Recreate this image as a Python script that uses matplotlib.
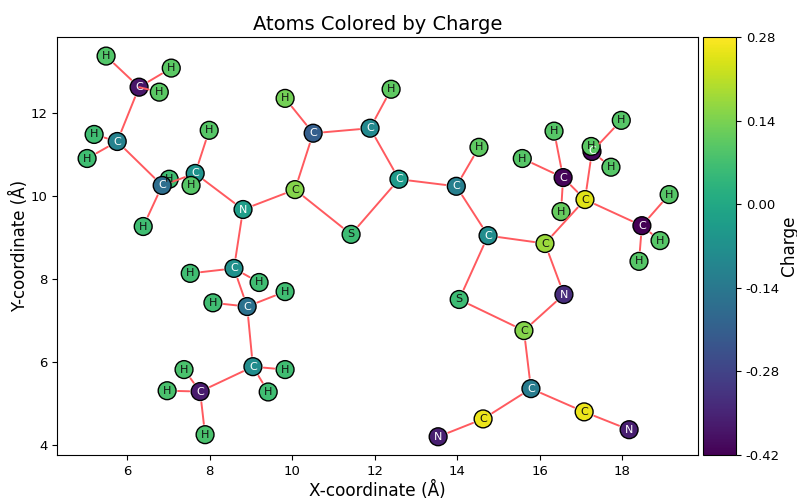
#!/usr/bin/env python3
"""Molecule atoms coloured by partial charge."""

import matplotlib
matplotlib.use('Agg')
import matplotlib.pyplot as plt
import numpy as np


ATOM_X = [5.49, 7.07, 6.29, 6.78, 5.20, 5.76, 5.03, 7.02, 6.85, 7.65,
          7.55, 7.99, 6.39, 8.81, 10.07, 10.51, 9.83, 11.89, 12.40, 12.59,
          11.43, 13.98, 14.53, 14.75, 16.13, 14.05, 15.62, 16.59, 15.79, 14.63,
          13.54, 17.08, 18.17, 17.10, 16.57, 16.35, 15.58, 16.52, 17.27, 17.25,
          17.98, 17.73, 18.48, 19.14, 18.92, 18.41, 8.59, 7.53, 9.20, 8.08,
          8.91, 9.83, 9.05, 9.83, 9.42, 7.77, 7.38, 6.97, 7.89]
ATOM_Y = [13.38, 13.09, 12.63, 12.51, 11.49, 11.32, 10.91, 10.41, 10.26, 10.55,
          10.26, 11.59, 9.27, 9.68, 10.16, 11.52, 12.36, 11.64, 12.58, 10.41,
          9.08, 10.24, 11.18, 9.05, 8.86, 7.51, 6.76, 7.63, 5.36, 4.63,
          4.20, 4.80, 4.37, 9.92, 10.45, 11.57, 10.91, 9.63, 11.08, 11.20,
          11.83, 10.70, 9.29, 10.04, 8.93, 8.43, 8.26, 8.14, 7.92, 7.43,
          7.34, 7.70, 5.89, 5.82, 5.28, 5.29, 5.82, 5.31, 4.25]
ATOM_LABELS = list('HHCHHCHHCC'
                   'HHHNCCHCHC'
                   'SCHCCSCNCC'
                   'NCNCCHHHCH'
                   'HHCHHHCHHH'
                   'CHCHHCHHH')
ATOM_CHARGES = [0.09, 0.10, -0.38, 0.10, 0.065, -0.11, 0.065, 0.065, -0.17, -0.06,
                0.095, 0.095, 0.065, -0.03, 0.15, -0.21, 0.13, -0.09, 0.105, -0.04,
                0.06, -0.12, 0.105, -0.08, 0.175, 0.06, 0.15, -0.33, -0.13, 0.26,
                -0.36, 0.26, -0.36, 0.245, -0.41, 0.095, 0.095, 0.115, -0.41, 0.10,
                0.095, 0.095, -0.42, 0.095, 0.095, 0.095, -0.07, 0.065, 0.065, 0.065,
                -0.16, 0.065, -0.08, 0.065, 0.065, -0.37, 0.08, 0.08, 0.08]

# 1-based atom numbers
BONDS = [(1, 3), (2, 3), (4, 3), (3, 6), (5, 6), (7, 6), (6, 9), (9, 13),
         (9, 10), (10, 12), (10, 14), (14, 15), (14, 47), (15, 16), (16, 17),
         (16, 18), (18, 19), (18, 20), (20, 21), (21, 15), (20, 22), (22, 23),
         (22, 24), (24, 25), (24, 26), (26, 27), (27, 28), (28, 25), (27, 29),
         (29, 30), (30, 31), (29, 32), (32, 33), (25, 34), (34, 35), (35, 36),
         (35, 37), (35, 38), (34, 39), (39, 41), (39, 42), (34, 43), (43, 44),
         (43, 45), (43, 46), (47, 48), (47, 49), (47, 51), (51, 50), (51, 52),
         (51, 53), (53, 54), (53, 55), (53, 56), (56, 57), (56, 58), (56, 59)]

CBAR_TICKS = [-0.42, -0.28, -0.14, 0.00, 0.14, 0.28]


def main():
    fig = plt.figure(figsize=(7.97, 5.0), dpi=100)
    ax = fig.add_axes([57 / 797, 1 - 455 / 500, 641 / 797, 418 / 500])
    cax = fig.add_axes([703 / 797, 1 - 455 / 500, 33 / 797, 418 / 500])

    sc = ax.scatter(ATOM_X, ATOM_Y, c=ATOM_CHARGES, cmap='viridis',
                    vmin=-0.42, vmax=0.28, s=165, edgecolors='black',
                    linewidths=1.0, zorder=2)

    for a, b in BONDS:
        ax.annotate('', xy=(ATOM_X[b - 1], ATOM_Y[b - 1]),
                    xytext=(ATOM_X[a - 1], ATOM_Y[a - 1]),
                    arrowprops=dict(arrowstyle='-', color='#ff5a5f', lw=1.4,
                                    shrinkA=7.8, shrinkB=7.8),
                    zorder=3)

    for x, y, label, q in zip(ATOM_X, ATOM_Y, ATOM_LABELS, ATOM_CHARGES):
        ax.text(x, y, label, ha='center', va='center', fontsize=8,
                color='white' if q < 0 else '#111111', zorder=4)

    ax.set_xlim(4.30, 19.84)
    ax.set_ylim(3.76, 13.84)
    ax.set_xticks(np.arange(6, 20, 2))
    ax.set_yticks(np.arange(4, 14, 2))
    ax.tick_params(labelsize=9.5)
    ax.set_xlabel('X-coordinate (Å)', fontsize=12.2, labelpad=2.5)
    ax.set_ylabel('Y-coordinate (Å)', fontsize=12, labelpad=1)
    ax.set_title('Atoms Colored by Charge', fontsize=14, pad=5)

    cbar = fig.colorbar(sc, cax=cax)
    cbar.set_ticks(CBAR_TICKS)
    cbar.set_ticklabels([f'{t:.2f}' for t in CBAR_TICKS])
    cbar.ax.tick_params(labelsize=9.5)
    cbar.set_label('Charge', fontsize=12.2, labelpad=0)

    fig.savefig('out.png', dpi=100)


if __name__ == '__main__':
    main()
